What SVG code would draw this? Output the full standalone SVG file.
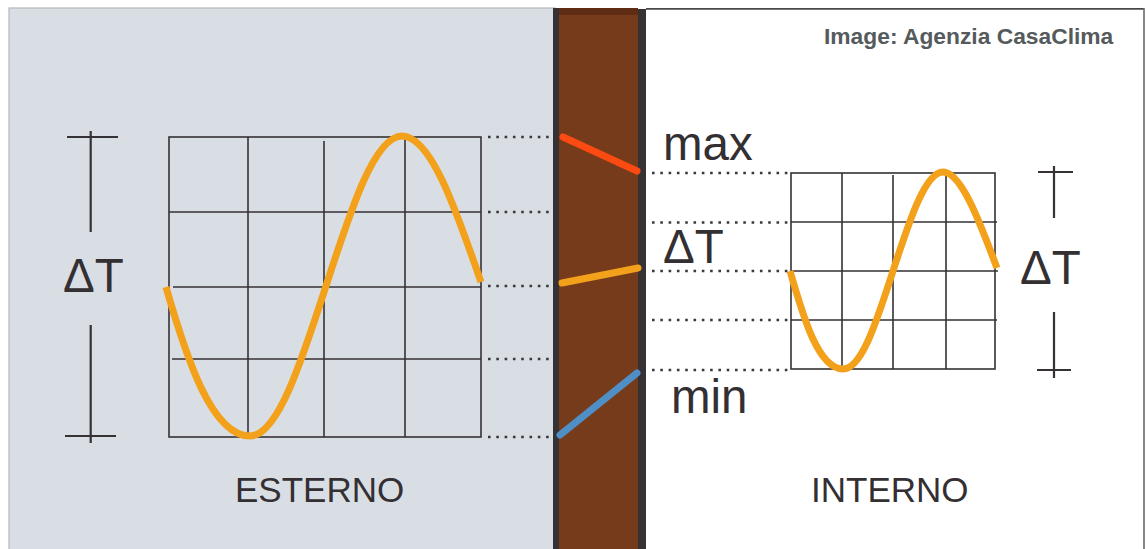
<svg xmlns="http://www.w3.org/2000/svg" width="1146" height="549" viewBox="0 0 1146 549">
<style>
.grid{fill:none;stroke:#353134;stroke-width:1.6}
.tick{stroke:#353134;stroke-width:2.2;fill:none}
.dots{stroke:#3a3a3e;stroke-width:2.6;stroke-dasharray:2.6 5.7;fill:none}
.wave{fill:none;stroke:#f3a01a;stroke-width:7}
.lbl{font-family:"Liberation Sans",Arial,sans-serif;fill:#332f32}
.big{font-size:47.5px}
.zone{font-size:35px}
</style>
<rect x="0" y="0" width="1146" height="549" fill="#ffffff"/>
<g id="esterno-panel">
<rect x="9" y="8" width="546" height="545" fill="#d9dee4" stroke="#b4b6b9" stroke-width="1.2"/>
</g>
<g id="interno-panel">
<line x1="646" y1="8.8" x2="1144" y2="8.8" stroke="#4a4a4c" stroke-width="1.8"/>
<line x1="1144" y1="8" x2="1144" y2="549" stroke="#6a6a6c" stroke-width="1.6"/>
</g>
<g id="wall">
<rect x="559" y="8" width="79" height="541" fill="#763b1b"/>
<rect x="559" y="8" width="79" height="7" fill="#5e2d14"/>
<rect x="553" y="8" width="6" height="541" fill="#353134"/>
<rect x="638" y="9" width="8" height="540" fill="#353134"/>
</g>
<g id="credit">
<text class="lbl" x="824" y="44" font-size="22.8" font-weight="bold" style="fill:#555a5c">Image: Agenzia CasaClima</text>
</g>
<g id="esterno-chart">
<rect class="grid" x="169" y="137" width="312" height="300"/>
<line class="grid" x1="248" y1="137" x2="248" y2="437"/>
<line class="grid" x1="324" y1="141" x2="324" y2="437"/>
<line class="grid" x1="405" y1="137" x2="405" y2="437"/>
<line class="grid" x1="169" y1="212" x2="481" y2="212"/>
<line class="grid" x1="173" y1="287" x2="481" y2="287"/>
<line class="grid" x1="172" y1="359" x2="481" y2="359"/>
<path class="wave" d="M166,287 C187,360 212,436 250,436 C277.5,436 301,363 326,286 C351,209 374.5,136 402,136 C430.6,136 455,207 481,282"/>
</g>
<g id="esterno-deltaT">
<line class="tick" x1="67" y1="137" x2="118" y2="137"/>
<line class="tick" x1="90.7" y1="131" x2="90.7" y2="232"/>
<line class="tick" x1="90.7" y1="325" x2="90.7" y2="443"/>
<line class="tick" x1="65" y1="436" x2="116" y2="436"/>
<text class="lbl big" x="63" y="292">ΔT</text>
</g>
<g id="interno-chart">
<rect class="grid" x="791" y="173" width="204" height="196"/>
<line class="grid" x1="842" y1="173" x2="842" y2="369"/>
<line class="grid" x1="893" y1="175" x2="893" y2="369"/>
<line class="grid" x1="946" y1="173" x2="946" y2="369"/>
<line class="grid" x1="791" y1="222" x2="997" y2="222"/>
<line class="grid" x1="791" y1="271" x2="998" y2="271"/>
<line class="grid" x1="791" y1="320" x2="997" y2="320"/>
<path class="wave" d="M790,271 C803,316 818,369 843,369 C862,369 877,320 893,271 C909,222 925,172 943,172 C961,172 979,220 997,268"/>
</g>
<g id="interno-deltaT">
<line class="tick" x1="1038" y1="172" x2="1073" y2="172"/>
<line class="tick" x1="1054" y1="166" x2="1054" y2="218"/>
<line class="tick" x1="1054" y1="312" x2="1054" y2="378"/>
<line class="tick" x1="1037" y1="370" x2="1071" y2="370"/>
<text class="lbl big" x="1020" y="284">ΔT</text>
</g>
<g id="connectors">
<line class="dots" x1="488" y1="137" x2="550" y2="137"/>
<line class="dots" x1="488" y1="212" x2="550" y2="212"/>
<line class="dots" x1="488" y1="286" x2="550" y2="286"/>
<line class="dots" x1="488" y1="359" x2="550" y2="359"/>
<line class="dots" x1="488" y1="437" x2="550" y2="437"/>
<line class="dots" x1="652" y1="173" x2="790" y2="173"/>
<line class="dots" x1="652" y1="222.5" x2="790" y2="222.5"/>
<line class="dots" x1="652" y1="271" x2="790" y2="271"/>
<line class="dots" x1="652" y1="320" x2="790" y2="320"/>
<line class="dots" x1="652" y1="370" x2="790" y2="370"/>
<line x1="563" y1="137" x2="637" y2="171" stroke="#fb4a12" stroke-width="7" stroke-linecap="round"/>
<line x1="562" y1="283" x2="638" y2="268" stroke="#f3a01a" stroke-width="7" stroke-linecap="round"/>
<line x1="560" y1="435" x2="637" y2="373" stroke="#4f8fc6" stroke-width="7" stroke-linecap="round"/>
</g>
<g id="labels">
<text class="lbl big" x="663" y="160">max</text>
<text class="lbl big" x="663" y="263">ΔT</text>
<text class="lbl big" x="671" y="413">min</text>
<text class="lbl zone" x="235" y="502">ESTERNO</text>
<text class="lbl zone" x="811" y="502">INTERNO</text>
</g>
</svg>
